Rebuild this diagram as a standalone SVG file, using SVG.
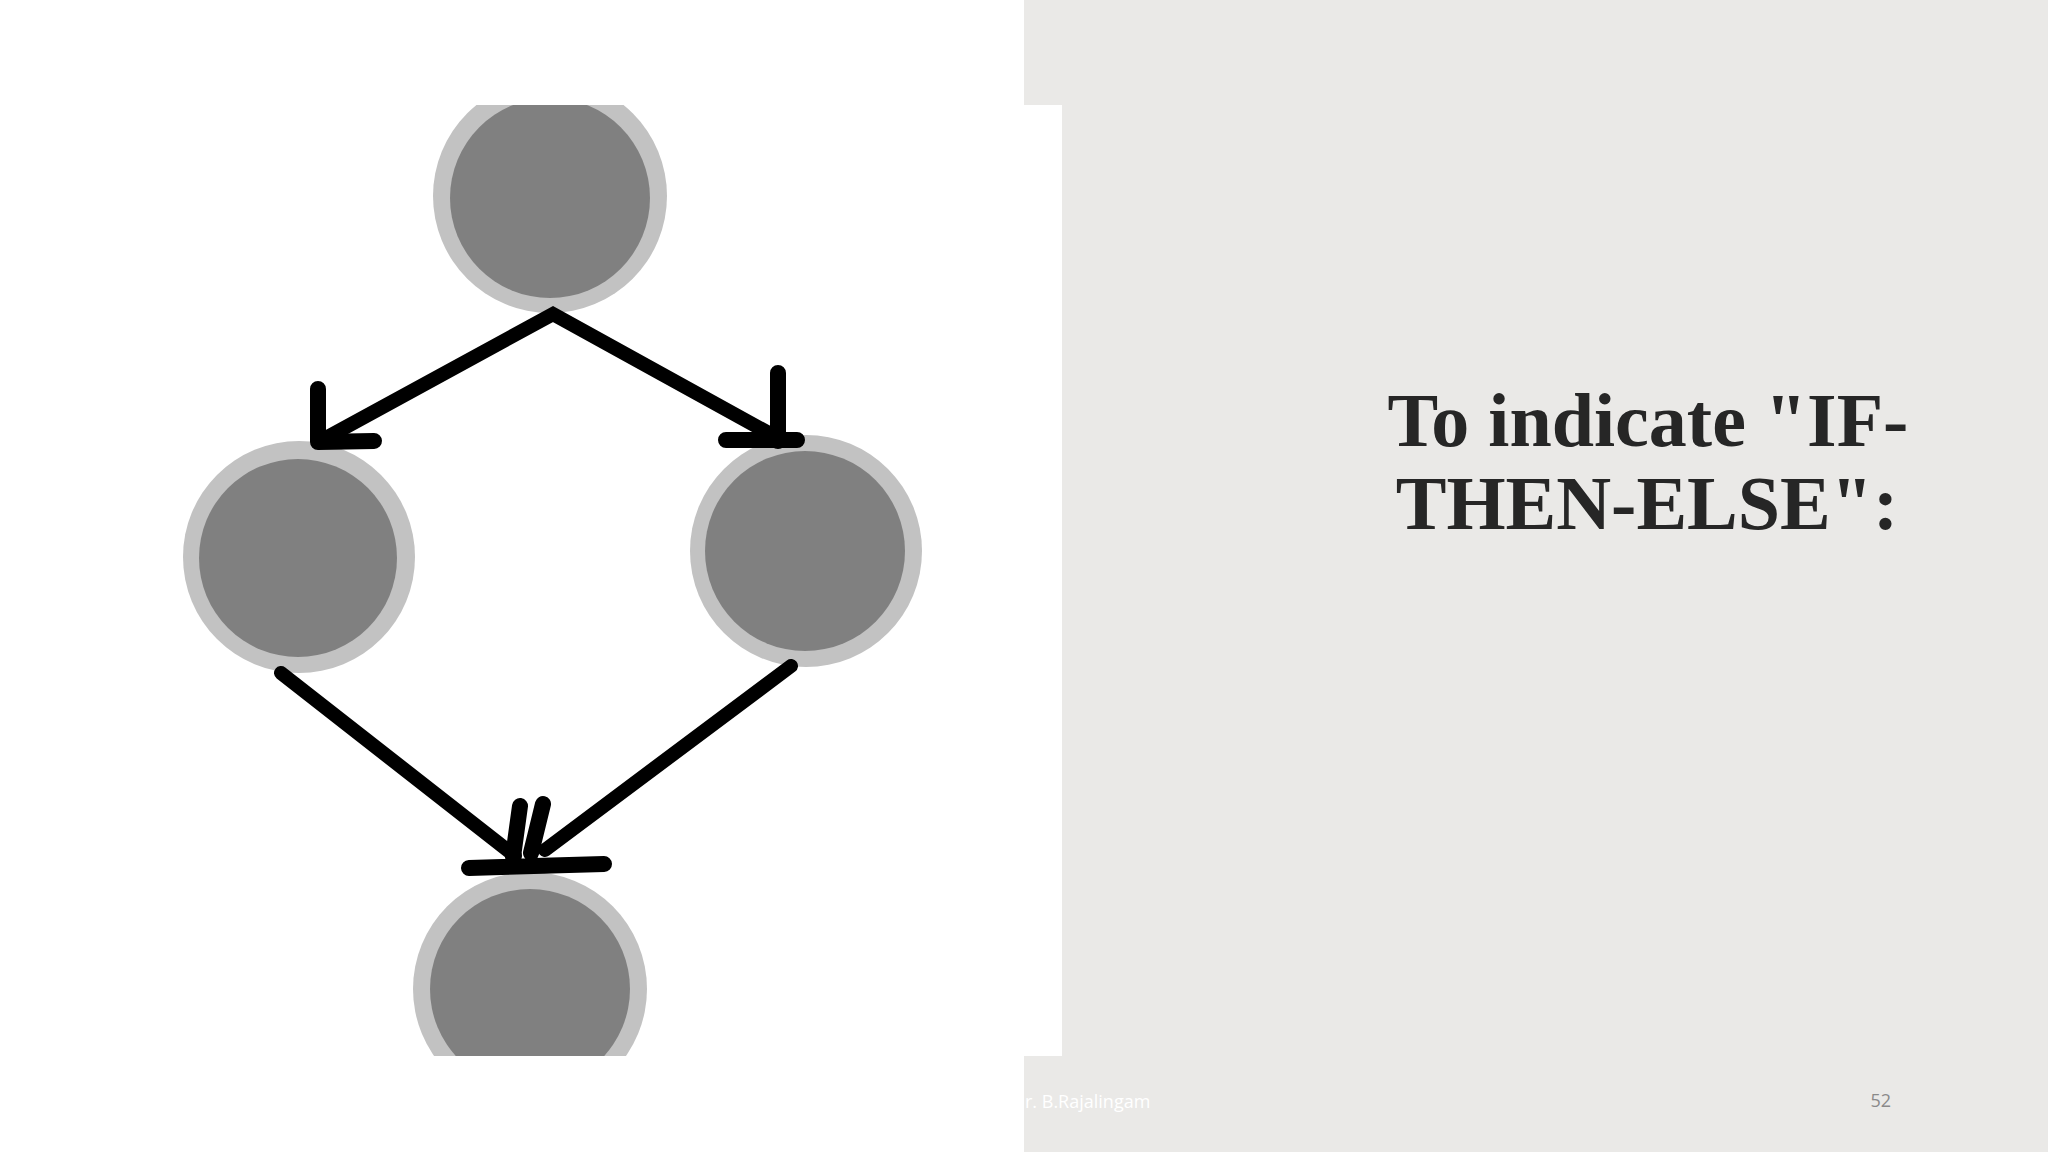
<svg xmlns="http://www.w3.org/2000/svg" width="2048" height="1152" viewBox="0 0 2048 1152">
  <style>
    .ring { fill: #C2C2C2; }
    .core { fill: #808080; }
    .edge { fill: none; stroke: #000; stroke-width: 14; stroke-linecap: round; stroke-linejoin: miter; }
    .head { fill: none; stroke: #000; stroke-width: 16; stroke-linecap: round; stroke-linejoin: round; }
    .title { font-family: "Liberation Serif", "Times New Roman", serif; font-weight: bold; font-size: 76px; fill: #262626; text-anchor: middle; }
    .foot { font-family: "Open Sans", "Noto Sans", sans-serif; font-size: 18px; }
  </style>
  <defs>
    <clipPath id="pic">
      <rect x="0" y="105" width="1062" height="951"/>
    </clipPath>
  </defs>
  <rect x="0" y="0" width="2048" height="1152" fill="#FFFFFF"/>
  <rect x="1024" y="0" width="1024" height="1152" fill="#EAE9E7"/>
  <rect x="1024" y="105" width="38" height="951" fill="#FFFFFF"/>

  <g clip-path="url(#pic)">
    <g id="node-top">
      <circle class="ring" cx="550" cy="196" r="117"/>
      <circle class="core" cx="550" cy="198" r="100"/>
    </g>
    <g id="node-left">
      <circle class="ring" cx="299" cy="557" r="116"/>
      <circle class="core" cx="298" cy="558" r="99"/>
    </g>
    <g id="node-right">
      <circle class="ring" cx="806" cy="551" r="116"/>
      <circle class="core" cx="805" cy="551" r="100"/>
    </g>
    <g id="node-bottom">
      <circle class="ring" cx="530" cy="989" r="117"/>
      <circle class="core" cx="530" cy="989" r="100"/>
    </g>
  </g>

  <g id="connectors">
    <path class="edge" d="M324,439 L553,314 L776,437"/>
    <path class="head" d="M318,389 L318,442 L374,441"/>
    <path class="head" d="M778,373 L778,441 M726,440 L797,440"/>
    <path class="edge" d="M281,673 L515,856"/>
    <path class="edge" d="M791,666 L545,850"/>
    <path class="head" d="M469,868 L604,864 M520,806 L513,857 M543,804 L531,853"/>
  </g>

  <g id="title">
    <text class="title" x="1648" y="446">To indicate "IF-</text>
    <text class="title" x="1647" y="529">THEN-ELSE":</text>
  </g>

  <g id="footer">
    <text class="foot" x="1025" y="1108" fill="#FFFFFF">r. B.Rajalingam</text>
    <text class="foot" x="1891" y="1107" fill="#8A8A8A" text-anchor="end">52</text>
  </g>
</svg>
